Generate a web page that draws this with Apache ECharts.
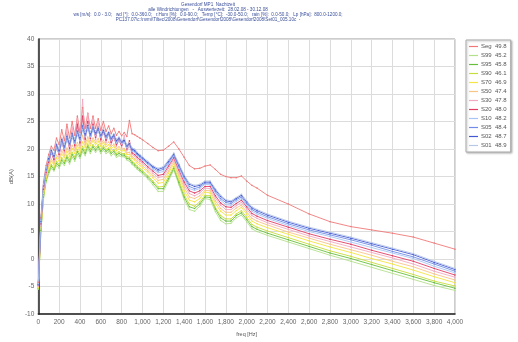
<!DOCTYPE html>
<html>
<head>
<meta charset="utf-8">
<script src="https://cdn.jsdelivr.net/npm/echarts@6/dist/echarts.min.js"></script>
<style>
  html, body { margin: 0; padding: 0; background: #fff; }
  #chart { width: 518px; height: 342px; }
</style>
</head>
<body>
<div id="chart"></div>
<script>
// Frequenzen [Hz]
var freqs = [
    0, 25, 50, 75, 100, 125, 150, 175, 200, 225,
    250, 275, 300, 325, 350, 375, 400, 425, 450, 475,
    500, 525, 550, 575, 600, 625, 650, 675, 700, 725,
    750, 775, 800, 825, 850, 875, 900, 925, 950, 975,
    1000, 1050, 1100, 1150, 1200, 1250, 1300, 1350, 1400, 1450,
    1500, 1550, 1600, 1650, 1700, 1750, 1800, 1850, 1900, 1950,
    2000, 2050, 2100, 2200, 2400, 2600, 2800, 3000, 3200, 3400,
    3600, 3800, 4000
];

// Legende: Name + Summenpegel
var names = ['Seg', 'S99', 'S95', 'S90', 'S70', 'S50', 'S30', 'S20', 'S10', 'S05', 'S02', 'S01'];
var levels = [49.8, 45.2, 45.8, 46.1, 46.9, 47.4, 47.8, 48.0, 48.2, 48.4, 48.7, 48.9];
var colors = ['#f07878', '#b4e08c', '#66c03c', '#c8dc3c', '#f4e444', '#f8c488', '#f4a8c0', '#e03c64', '#a8c4f4', '#6f8ce8', '#4458d4', '#b8c8e4'];

var seg = [
    -4.2, 7.5, 14, 17, 19, 20.5, 19.8, 22, 20.8, 23.5,
    21.5, 24.5, 22, 25, 22.5, 26, 23, 27.5, 23.8, 26.5,
    23.8, 26, 23.8, 25.5, 23.4, 25, 23.2, 24.2, 22.8, 23.8,
    22.5, 23.2, 22.4, 23, 22.3, 25.2, 22.8, 22.6, 22.3, 22,
    21.7, 21, 20.3, 19.7, 19.8, 20.5, 21.3, 20, 18.5, 17,
    16.4, 16.5, 16.9, 17.1, 16.3, 15.4, 15, 14.8, 14.8, 15.1,
    14.2, 13.4, 12.9, 11.6, 10, 8.2, 6.8, 5.9, 5.3, 4.7,
    4, 2.9, 1.8
];
var s99 = [
    -5.5, 5, 11, 14, 15.5, 16.5, 16, 17, 16.5, 17.5,
    17, 18, 17.3, 18.5, 17.8, 19, 18.3, 19.5, 18.8, 20,
    19.2, 20, 19.4, 20, 19.2, 19.8, 19.2, 19.5, 18.8, 19.2,
    18.5, 18.8, 18.6, 18.6, 18, 17.8, 17.2, 16.8, 16.3, 15.9,
    15.5, 14.6, 13.5, 12.3, 12.3, 14.2, 16.2, 13.5, 10.8, 9,
    8.7, 9.6, 11, 10.8, 8.6, 7, 6.4, 6.5, 7.5, 8,
    6.8, 5.5, 5, 4.3, 3.1, 1.9, 0.7, -0.4, -1.5, -2.6,
    -3.7, -4.8, -5.7
];
var s95 = [
    -5.4, 5.2, 11.3, 14.3, 15.8, 16.9, 16.3, 17.4, 16.9, 18,
    17.4, 18.5, 17.7, 19, 18.2, 19.5, 18.7, 20, 19.2, 20.5,
    19.6, 20.4, 19.8, 20.4, 19.6, 20.2, 19.6, 19.9, 19.2, 19.6,
    18.9, 19.2, 18.9, 18.9, 18.3, 18.2, 17.5, 17.1, 16.6, 16.2,
    15.8, 14.9, 13.9, 12.8, 12.8, 14.6, 16.5, 13.9, 11.3, 9.5,
    9.2, 10, 11.3, 11.2, 9.1, 7.5, 6.9, 6.9, 7.9, 8.4,
    7.2, 5.9, 5.4, 4.7, 3.5, 2.3, 1.1, 0.1, -1, -2.1,
    -3.2, -4.3, -5.3
];
var s90 = [
    -5.3, 5.4, 11.5, 14.5, 16.1, 17.2, 16.6, 17.8, 17.2, 18.4,
    17.8, 18.9, 18.1, 19.4, 18.6, 19.9, 19.1, 20.5, 19.6, 20.9,
    20, 20.8, 20.2, 20.8, 19.9, 20.6, 19.9, 20.2, 19.5, 19.9,
    19.2, 19.5, 19.2, 19.2, 18.6, 18.5, 17.8, 17.4, 16.9, 16.5,
    16.1, 15.2, 14.2, 13.1, 13.2, 15, 16.8, 14.3, 11.7, 10,
    9.6, 10.4, 11.6, 11.5, 9.4, 7.9, 7.3, 7.3, 8.2, 8.8,
    7.6, 6.3, 5.8, 5.1, 3.9, 2.7, 1.5, 0.5, -0.6, -1.7,
    -2.8, -4, -4.9
];
var s70 = [
    -5.1, 5.7, 11.9, 14.9, 16.6, 17.8, 17.1, 18.4, 17.8, 19.1,
    18.4, 19.6, 18.7, 20.1, 19.2, 20.6, 19.7, 21.3, 20.3, 21.6,
    20.6, 21.5, 20.8, 21.4, 20.5, 21.2, 20.4, 20.8, 20, 20.5,
    19.7, 20, 19.6, 19.8, 19, 19, 18.3, 18, 17.4, 17,
    16.6, 15.8, 14.8, 13.8, 13.9, 15.6, 17.3, 14.9, 12.4, 10.7,
    10.4, 11, 12.2, 12, 10.1, 8.7, 8, 8, 8.8, 9.4,
    8.2, 6.9, 6.4, 5.7, 4.5, 3.3, 2.2, 1.2, 0.1, -0.9,
    -2, -3.2, -4.3
];
var s50 = [
    -5, 6, 12.2, 15.2, 17, 18.2, 17.4, 18.9, 18.2, 19.7,
    18.8, 20.2, 19.2, 20.7, 19.7, 21.2, 20.2, 22.5, 20.8, 22.2,
    21, 22, 21.2, 21.9, 20.9, 21.6, 20.8, 21.3, 20.4, 20.9,
    20.1, 20.4, 20, 20.1, 19.3, 19.4, 18.6, 18.3, 17.8, 17.4,
    17, 16.1, 15.2, 14.3, 14.5, 16, 17.7, 15.3, 13, 11.3,
    11, 11.5, 12.5, 12.4, 10.6, 9.2, 8.5, 8.5, 9.3, 9.8,
    8.6, 7.4, 6.9, 6.2, 4.9, 3.8, 2.7, 1.7, 0.7, -0.4,
    -1.4, -2.7, -3.8
];
var s30 = [
    -4.9, 6.2, 12.5, 15.5, 17.3, 19.5, 17.8, 21, 18.6, 22,
    19.3, 23.5, 19.7, 24, 20.2, 25.5, 20.7, 29, 21.3, 26.5,
    21.5, 25.5, 21.7, 25, 21.4, 24, 21.2, 23, 20.8, 22.5,
    20.5, 22, 20.3, 22.5, 19.7, 20.6, 19, 18.7, 18.2, 17.8,
    17.4, 16.5, 15.6, 14.8, 15, 16.5, 18.1, 15.8, 13.5, 11.9,
    11.5, 12, 12.9, 12.8, 11.1, 9.8, 9, 9, 9.7, 10.3,
    9.1, 7.9, 7.4, 6.6, 5.4, 4.2, 3.2, 2.2, 1.2, 0.2,
    -0.9, -2.2, -3.3
];
var s20 = [
    -4.8, 6.4, 12.7, 15.8, 17.6, 19.4, 18.1, 20.5, 19, 21.5,
    19.7, 22.5, 20.1, 23, 20.6, 24.5, 21.1, 26, 21.8, 25,
    21.9, 24.5, 22.1, 24, 21.7, 23.5, 21.6, 22.8, 21.2, 22.2,
    20.8, 21.6, 20.6, 21.6, 20, 21.5, 19.3, 19, 18.5, 18.1,
    17.7, 16.8, 16, 15.2, 15.4, 16.9, 18.4, 16.2, 14, 12.4,
    12, 12.4, 13.2, 13.2, 11.5, 10.2, 9.5, 9.4, 10.1, 10.7,
    9.5, 8.3, 7.8, 7, 5.8, 4.6, 3.6, 2.7, 1.6, 0.6,
    -0.4, -1.7, -2.9
];
var s10 = [
    -4.7, 6.6, 13, 16, 17.9, 19.3, 18.4, 20.2, 19.3, 21.1,
    20, 21.6, 20.5, 22.1, 21, 22.6, 21.5, 23.5, 22.2, 23.6,
    22.2, 23.4, 22.4, 23.2, 22.1, 22.8, 21.9, 22.5, 21.5, 22.1,
    21.1, 21.5, 20.9, 21.2, 20.2, 20.5, 19.6, 19.4, 18.8, 18.4,
    18, 17.2, 16.3, 15.7, 15.9, 17.2, 18.7, 16.5, 14.4, 12.8,
    12.5, 12.8, 13.6, 13.5, 12, 10.7, 9.9, 9.8, 10.5, 11,
    9.8, 8.7, 8.2, 7.4, 6.1, 5, 4.1, 3.1, 2.1, 1.1,
    0.1, -1.3, -2.5
];
var s05 = [
    -4.6, 6.8, 13.2, 16.2, 18.1, 19.6, 18.6, 20.5, 19.6, 21.5,
    20.3, 22, 20.8, 22.5, 21.3, 23, 21.8, 23.9, 22.5, 24,
    22.5, 23.7, 22.7, 23.5, 22.4, 23.2, 22.2, 22.8, 21.8, 22.4,
    21.4, 21.8, 21.2, 21.4, 20.5, 20.8, 19.8, 19.6, 19, 18.6,
    18.2, 17.4, 16.6, 16, 16.3, 17.5, 18.9, 16.8, 14.8, 13.2,
    12.8, 13.1, 13.8, 13.8, 12.3, 11, 10.3, 10.1, 10.8, 11.3,
    10.1, 9, 8.5, 7.7, 6.4, 5.3, 4.4, 3.5, 2.5, 1.4,
    0.4, -0.9, -2.2
];
var s02 = [
    -4.6, 6.9, 13.4, 16.4, 18.3, 19.8, 18.8, 20.8, 19.8, 21.8,
    20.6, 22.3, 21.1, 22.8, 21.6, 23.3, 22.1, 24.2, 22.8, 24.3,
    22.8, 24, 23, 23.8, 22.6, 23.4, 22.4, 23, 22, 22.6,
    21.6, 22, 21.4, 21.6, 20.7, 21, 20, 19.8, 19.2, 18.8,
    18.4, 17.6, 16.8, 16.3, 16.6, 17.8, 19.1, 17.1, 15.1, 13.6,
    13.2, 13.4, 14, 14, 12.6, 11.4, 10.6, 10.4, 11, 11.6,
    10.4, 9.3, 8.8, 8, 6.7, 5.6, 4.7, 3.8, 2.8, 1.8,
    0.8, -0.6, -1.9
];
var s01 = [
    -4.5, 7, 13.5, 16.5, 18.5, 20, 19, 21, 20, 22,
    20.8, 22.5, 21.3, 23, 21.8, 23.5, 22.3, 24.5, 23, 24.5,
    23, 24.2, 23.2, 24, 22.8, 23.6, 22.6, 23.2, 22.2, 22.8,
    21.8, 22.2, 21.5, 21.8, 20.8, 21.2, 20.2, 20, 19.4, 19,
    18.6, 17.8, 17, 16.5, 16.8, 18, 19.3, 17.3, 15.3, 13.8,
    13.4, 13.6, 14.2, 14.2, 12.8, 11.6, 10.8, 10.6, 11.2, 11.8,
    10.6, 9.5, 9, 8.2, 6.9, 5.8, 4.9, 4, 3, 2,
    1, -0.4, -1.7
];
var values = [seg, s99, s95, s90, s70, s50, s30, s20, s10, s05, s02, s01];

// Kopfzeilen
var headLines = [
    'Gesendorf MP1  Nachtzeit',
    'alle Windrichtungen   -   Auswertezeit:  28.02.08 - 30.12.08',
    'ws [m/s]:  0.0 - 3.0;   wd [°]:  0.0-360.0;   r.Hum [%]:  0.0-90.0;   Temp [°C]:  -30.0-50.0;   rain [%]:  0.0-50.0;   Lp [hPa]:  800.0-1200.0;',
    'PC137.07\\c:\\nvmi\\Tiltec\\2008\\Gesendorf\\Gesendorf2008\\Gesendorf2008\\Set01_005.10c  -'
];

(function() {
    var myChart = echarts.init(document.getElementById('chart'));
    var font = 'Liberation Sans, Arial, sans-serif';

    var series = names.map(function(n, k) {
        return {
            name: n,
            type: 'line',
            data: freqs.map(function(f, i) { return [f, values[k][i]]; }),
            symbol: 'circle',
            symbolSize: 1.5,
            showSymbol: true,
            lineStyle: { width: 0.9, color: colors[k] },
            itemStyle: { color: colors[k] },
            emphasis: { disabled: true }
        };
    });

    // Kopfzeilen mittig bei x = 208
    var graphic = headLines.map(function(t, i) {
        return {
            type: 'text',
            x: 208,
            y: 2 + i * 5,
            style: {
                text: t,
                fontSize: 4.6,
                fontFamily: font,
                fill: '#3a4f9a',
                align: 'center'
            }
        };
    });

    var option = {
        animation: false,
        backgroundColor: '#fff',
        graphic: graphic,
        legend: {
            orient: 'vertical',
            left: 466,
            top: 40,
            width: 48,
            padding: [3, 4, 3, 3],
            borderColor: '#aaa',
            borderWidth: 1,
            backgroundColor: '#fff',
            shadowColor: 'rgba(0,0,0,0.25)',
            shadowBlur: 2,
            shadowOffsetX: 1,
            shadowOffsetY: 1,
            icon: 'rect',
            itemWidth: 9,
            itemHeight: 1.2,
            itemGap: 2,
            textStyle: { fontSize: 6, lineHeight: 7, color: '#555', fontFamily: font, padding: [0, 0, 0, -2] },
            formatter: function(n) {
                return n + '  ' + levels[names.indexOf(n)].toFixed(1);
            },
            data: names
        },
        grid: {
            left: 33,
            right: 63,
            top: 39,
            bottom: 20,
            show: true,
            borderColor: '#9a9a9a',
            borderWidth: 1,
            containLabel: false
        },
        xAxis: {
            type: 'value',
            min: 0,
            max: 4000,
            interval: 200,
            name: 'freq [Hz]',
            nameLocation: 'middle',
            nameGap: 13,
            nameTextStyle: { fontSize: 5.5, color: '#555', fontFamily: font },
            axisLine: { show: true, onZero: false, lineStyle: { color: '#222', width: 1.5 } },
            axisTick: { show: false },
            axisLabel: {
                fontSize: 6.5,
                color: '#666',
                fontFamily: font,
                margin: 5,
                formatter: function(v) { return v.toLocaleString('en-US'); }
            },
            splitLine: { show: true, lineStyle: { color: '#dcdcdc', width: 1 } }
        },
        yAxis: {
            type: 'value',
            min: -10,
            max: 40,
            interval: 5,
            name: 'dB(A)',
            nameLocation: 'middle',
            nameGap: 19,
            nameTextStyle: { fontSize: 6, color: '#555', fontFamily: font },
            axisLine: { show: true, onZero: false, lineStyle: { color: '#222', width: 1.5 } },
            axisTick: { show: false },
            axisLabel: { fontSize: 6.5, color: '#666', fontFamily: font, margin: 4 },
            splitLine: { show: true, lineStyle: { color: '#dcdcdc', width: 1 } }
        },
        series: series
    };
    myChart.setOption(option);
})();
</script>
</body>
</html>
